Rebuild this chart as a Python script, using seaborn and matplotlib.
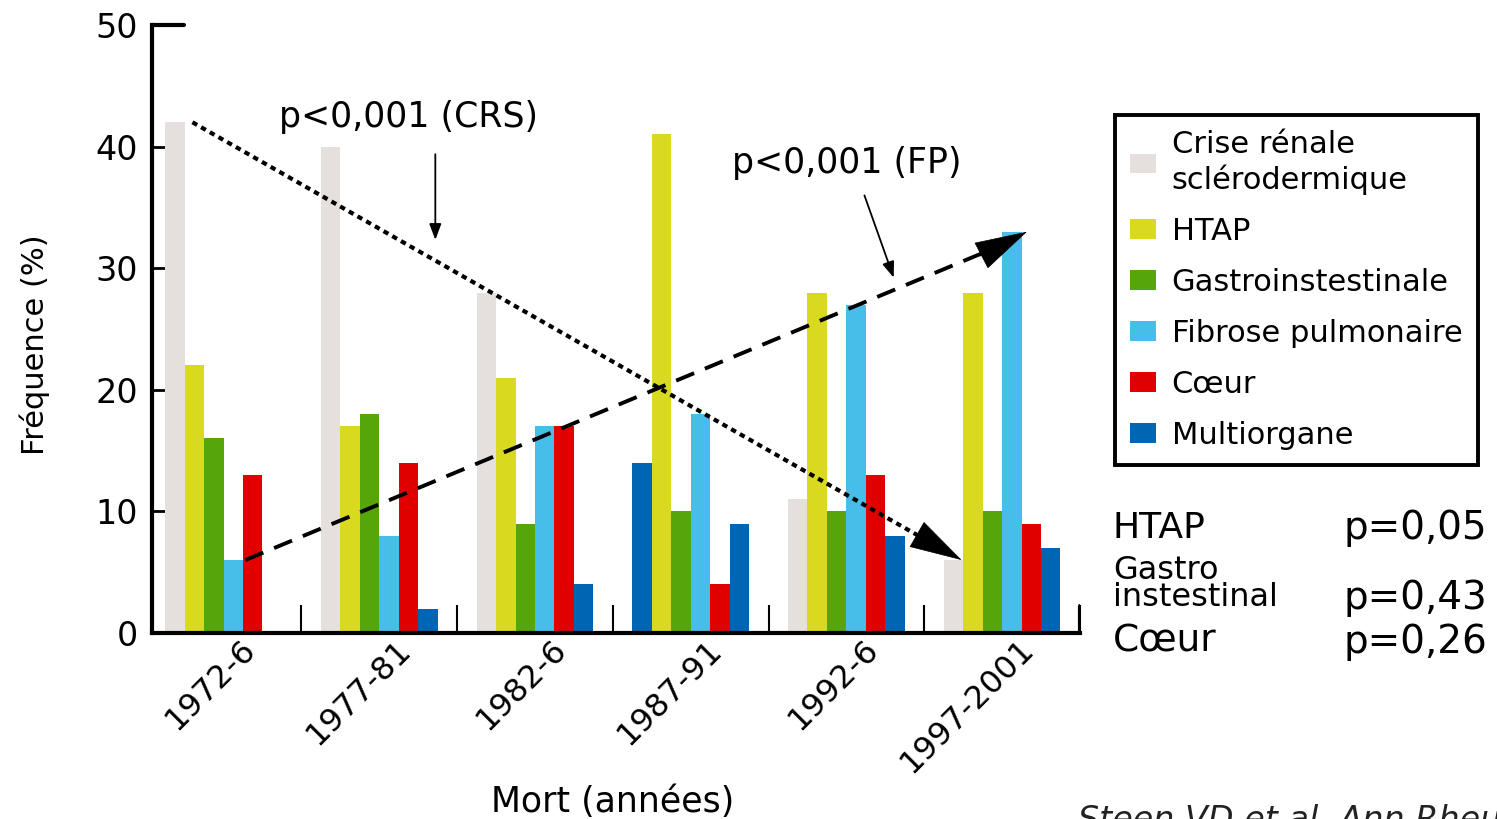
import matplotlib
matplotlib.use("Agg")
import matplotlib.pyplot as plt
import matplotlib.transforms as mtrans
import seaborn as sns
import pandas as pd
from matplotlib.patches import Patch

periods = ["1972-6", "1977-81", "1982-6", "1987-91", "1992-6", "1997-2001"]
causes = ["Crise rénale\nsclérodermique", "HTAP", "Gastroinstestinale",
          "Fibrose pulmonaire", "Cœur", "Multiorgane"]
crs = [42, 40, 28, 14, 11, 6]
htap = [22, 17, 21, 41, 28, 28]
gastro = [16, 18, 9, 10, 10, 10]
fibrose = [6, 8, 17, 18, 27, 33]
coeur = [13, 14, 17, 4, 13, 9]
multi = [0, 2, 4, 9, 8, 7]
colors = ["#E5E0DD", "#D9D91F", "#55A50B", "#47BDE9", "#E00000", "#0066B3"]

pval_labels = ["HTAP", "Gastro\ninstestinal", "Cœur"]
pval_values = ["p=0,05", "p=0,43", "p=0,26"]

series = [crs, htap, gastro, fibrose, coeur, multi]
rows = []
for c, vals in zip(causes, series):
    for p, v in zip(periods, vals):
        rows.append({"period": p, "cause": c, "value": v})
df = pd.DataFrame(rows)

sns.set_theme(style="white")
plt.rcParams["font.family"] = ["DejaVu Sans"]
for k in ["text.color", "axes.labelcolor", "xtick.color", "ytick.color"]:
    plt.rcParams[k] = "black"

fig = plt.figure(figsize=(14.97, 8.19), dpi=100)
ax = fig.add_axes([0.1015, 0.2271, 0.6199, 0.7424])

sns.barplot(data=df, x="period", y="value", hue="cause", order=periods,
            hue_order=causes, palette=colors, width=0.75, saturation=1,
            ax=ax, legend=False, linewidth=0)
# the 1987-91 first bar is drawn in the Multiorgane colour in the source
ax.containers[0][3].set_facecolor(colors[5])

ax.set_ylim(0, 50)
ax.set_xlim(-0.46, 5.5)
ax.set_yticks([0, 10, 20, 30, 40, 50])
ax.tick_params(axis="y", direction="in", length=12, width=2, labelsize=24, pad=10, left=True)
ax.set_xticks(range(len(periods)))
ax.set_xticklabels(periods, rotation=45, ha="right", rotation_mode="anchor", fontsize=23)
ax.tick_params(axis="x", length=0, pad=2)
shift = mtrans.ScaledTranslation(0.16, 0.02, fig.dpi_scale_trans)
for lbl in ax.get_xticklabels():
    lbl.set_transform(lbl.get_transform() + shift)
ax.set_xticks([0.5, 1.5, 2.5, 3.5, 4.5, 5.5], minor=True)
ax.tick_params(axis="x", which="minor", direction="in", length=20, width=1.5, bottom=True)
for s in ["top", "right"]:
    ax.spines[s].set_visible(False)
for s in ["left", "bottom"]:
    ax.spines[s].set_linewidth(3)
    ax.spines[s].set_color("black")
ax.axhline(50, xmin=0, xmax=0.035, color="black", lw=3, clip_on=False)
ax.axvline(5.5, ymin=0, ymax=0.045, color="black", lw=3)

ax.set_xlabel("Mort (années)", fontsize=25)
ax.xaxis.set_label_coords(0.496, -0.25)
ax.set_ylabel("Fréquence (%)", fontsize=22)
ax.yaxis.set_label_coords(-0.11, 0.474)

# trend lines with solid arrow heads
crs_start, crs_end = (-0.2, crs[0]), (4.74, crs[5])
fp_start, fp_end = (0.14, fibrose[0]), (5.16, fibrose[5])
ax.plot([crs_start[0], crs_end[0] - 0.25], [crs_start[1], crs_end[1] + 1.8],
        color="black", lw=3, linestyle=(0, (1.3, 1.1)))
ax.plot([fp_start[0], fp_end[0] - 0.2], [fp_start[1], fp_end[1] - 1.3],
        color="black", lw=2.8, linestyle=(0, (5, 3)))
head = dict(arrowstyle="-|>,head_length=1.8,head_width=0.5", lw=0.5, color="black",
            mutation_scale=20, shrinkA=0, shrinkB=0)
ax.annotate("", xy=crs_end, xytext=(crs_end[0] - 0.3, crs_end[1] + 2.2), arrowprops=head)
ax.annotate("", xy=fp_end, xytext=(fp_end[0] - 0.3, fp_end[1] - 2.0), arrowprops=head)

ax.text(1.185, 42.4, "p<0,001 (CRS)", fontsize=25, ha="center", va="center")
ax.annotate("", xy=(1.36, 32.1), xytext=(1.36, 39.6),
            arrowprops=dict(arrowstyle="-|>,head_length=0.8,head_width=0.3", lw=1.3, color="black"))
ax.text(4.004, 38.65, "p<0,001 (FP)", fontsize=25, ha="center", va="center")
ax.annotate("", xy=(4.31, 29.0), xytext=(4.11, 36.2),
            arrowprops=dict(arrowstyle="-|>,head_length=0.8,head_width=0.3", lw=1.3, color="black"))

handles = [Patch(facecolor=c, edgecolor="none") for c in colors]
leg = fig.legend(handles, causes, loc="upper left", bbox_to_anchor=(1115 / 1497, 1 - 115 / 819),
                 frameon=True, fontsize=22, handlelength=0.85, handleheight=0.6,
                 handletextpad=0.5, labelspacing=0.72, borderpad=0.5, borderaxespad=0,
                 fancybox=False, framealpha=1)
leg.get_frame().set_edgecolor("black")
leg.get_frame().set_linewidth(2.8)

ys = [528, 584, 642]
sizes = [26, 23, 27]
for lab, y, fs in zip(pval_labels, ys, sizes):
    fig.text(1113 / 1497, 1 - y / 819, lab, fontsize=fs, ha="left", va="center", linespacing=0.85)
for val, y in zip(pval_values, [528, 598, 642]):
    fig.text(1487 / 1497, 1 - y / 819, val, fontsize=28, ha="right", va="center")

fig.text(1078 / 1497, 1 - 804 / 819, "Steen VD et al. Ann Rheum Dis", fontsize=24, style="italic",
         ha="left", va="top", color="#222222")

fig.savefig("out.png", dpi=100)
